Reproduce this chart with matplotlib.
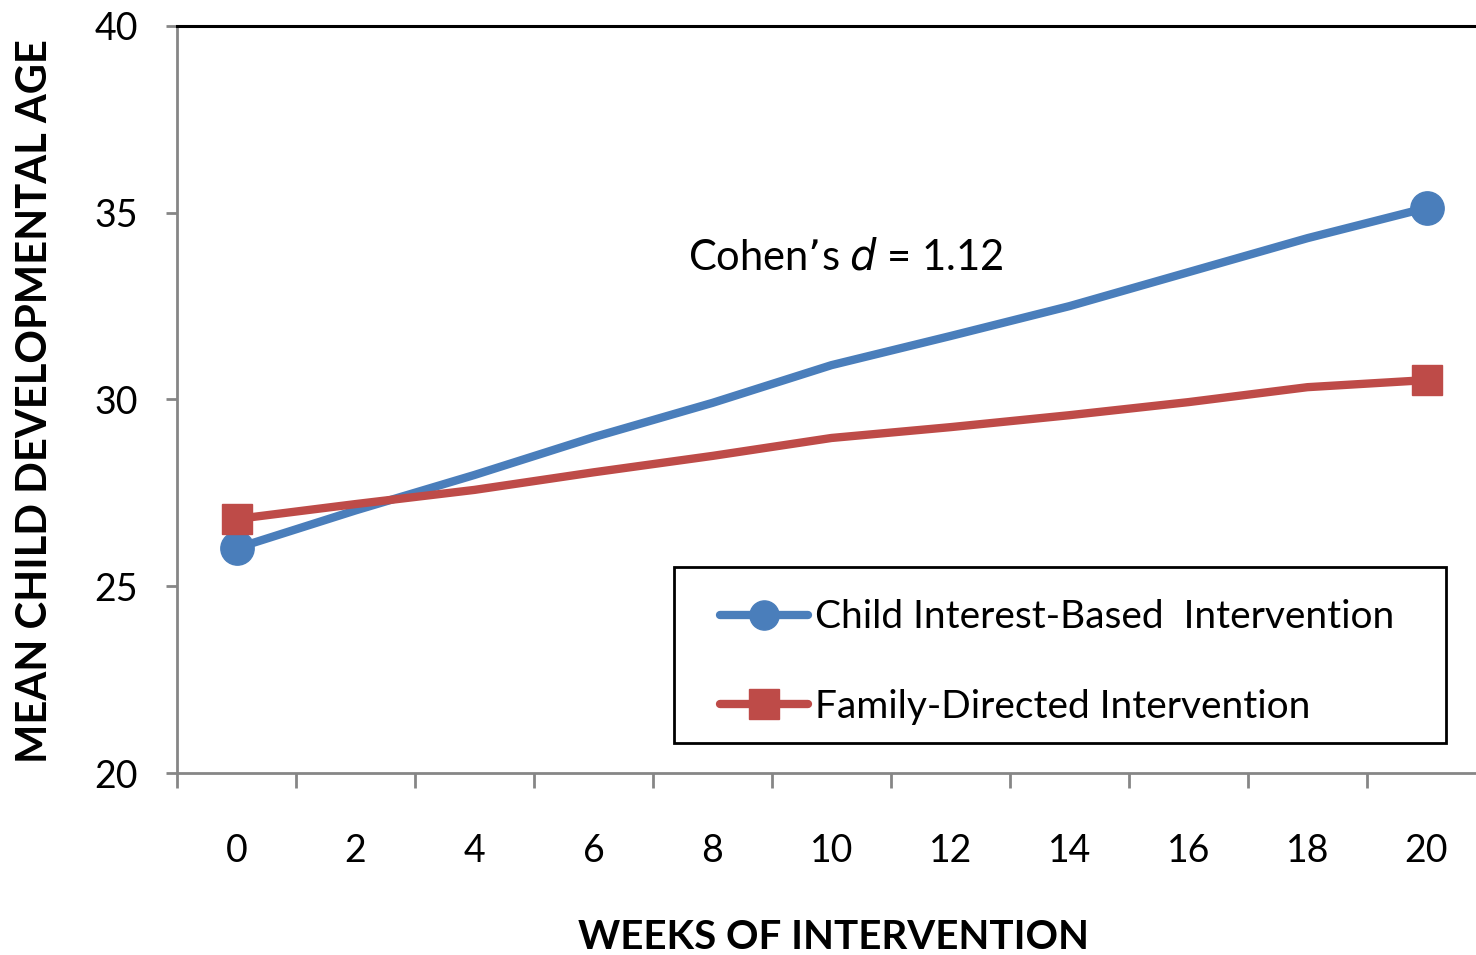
import matplotlib
matplotlib.use("Agg")
import matplotlib.pyplot as plt
import numpy as np
from matplotlib.lines import Line2D
from matplotlib.patches import Rectangle
from matplotlib.ticker import FixedLocator

plt.rcParams["font.family"] = ["Lato", "DejaVu Sans"]

# data
WEEKS = [0, 2, 4, 6, 8, 10, 12, 14, 16, 18, 20]
CHILD_INTEREST = [26.02, 27.03, 27.98, 28.99, 29.91, 30.92, 31.70, 32.50, 33.41, 34.32, 35.13]
FAMILY_DIRECTED = [26.80, 27.20, 27.58, 28.05, 28.49, 28.97, 29.26, 29.58, 29.93, 30.33, 30.52]
SERIES_NAMES = ["Child Interest-Based  Intervention", "Family-Directed Intervention"]
Y_TICKS = [20, 25, 30, 35, 40]

BLUE = "#4a7ebb"
RED = "#be4b48"
GRAY = "#868686"

W, H = 1476, 955
fig = plt.figure(figsize=(W / 100, H / 100), dpi=100)
ax = fig.add_axes([177 / W, (H - 773) / H, (1486 - 177) / W, (773 - 26) / H])

xs = np.arange(len(WEEKS))
last = len(WEEKS) - 1
ax.plot(xs, CHILD_INTEREST, color=BLUE, lw=6, marker="o", ms=24,
        markevery=[0, last], solid_capstyle="round", solid_joinstyle="round", zorder=3)
ax.plot(xs, FAMILY_DIRECTED, color=RED, lw=6, marker="s", ms=22,
        markevery=[0, last], solid_capstyle="round", solid_joinstyle="round", zorder=3)

ax.set_xlim(-0.5, len(WEEKS) - 0.5)
ax.set_ylim(20, 40)
ax.set_yticks(Y_TICKS)
ax.set_xticks(xs)
ax.set_xticklabels([str(w) for w in WEEKS])
ax.xaxis.set_minor_locator(FixedLocator(np.arange(-0.5, len(WEEKS), 1.0)))

ax.tick_params(axis="x", which="major", length=0, pad=43, labelsize=27)
ax.tick_params(axis="x", which="minor", length=11, width=2, color=GRAY, direction="out")
ax.tick_params(axis="y", length=8, width=2, color=GRAY, direction="out", pad=20, labelsize=27)

for side in ["left", "bottom"]:
    ax.spines[side].set_color(GRAY)
    ax.spines[side].set_linewidth(2)
ax.spines["top"].set_color("black")
ax.spines["top"].set_linewidth(2.2)
ax.spines["right"].set_visible(False)

ax.text(688 / W, 1 - 258 / H, "Cohen\u2019s $\\it{d}$ = 1.12", transform=fig.transFigure,
        fontsize=30, ha="left", va="center")

fig.text(35 / W, 1 - 401 / H, "MEAN CHILD DEVELOPMENTAL AGE", rotation=90,
         fontsize=30, fontweight="bold", ha="center", va="center")
fig.text(833 / W, 1 - 937 / H, "WEEKS OF INTERVENTION",
         fontsize=29, fontweight="bold", ha="center", va="center")

# legend box
fig.patches.append(Rectangle((674 / W, 1 - 743 / H), (1446 - 674) / W, (743 - 567) / H,
                             transform=fig.transFigure, fill=False, edgecolor="black",
                             linewidth=2, zorder=5))
handles = [
    Line2D([0], [0], color=BLUE, lw=6, marker="o", ms=21, solid_capstyle="round"),
    Line2D([0], [0], color=RED, lw=6, marker="s", ms=21, solid_capstyle="round"),
]
fig.legend(handles, SERIES_NAMES, loc="center left",
           bbox_to_anchor=(720 / W, 1 - 662 / H), bbox_transform=fig.transFigure,
           frameon=False, fontsize=28, handlelength=2.25, handletextpad=0.2,
           labelspacing=1.38, borderaxespad=0, borderpad=0)

fig.savefig("out.png", dpi=100)
